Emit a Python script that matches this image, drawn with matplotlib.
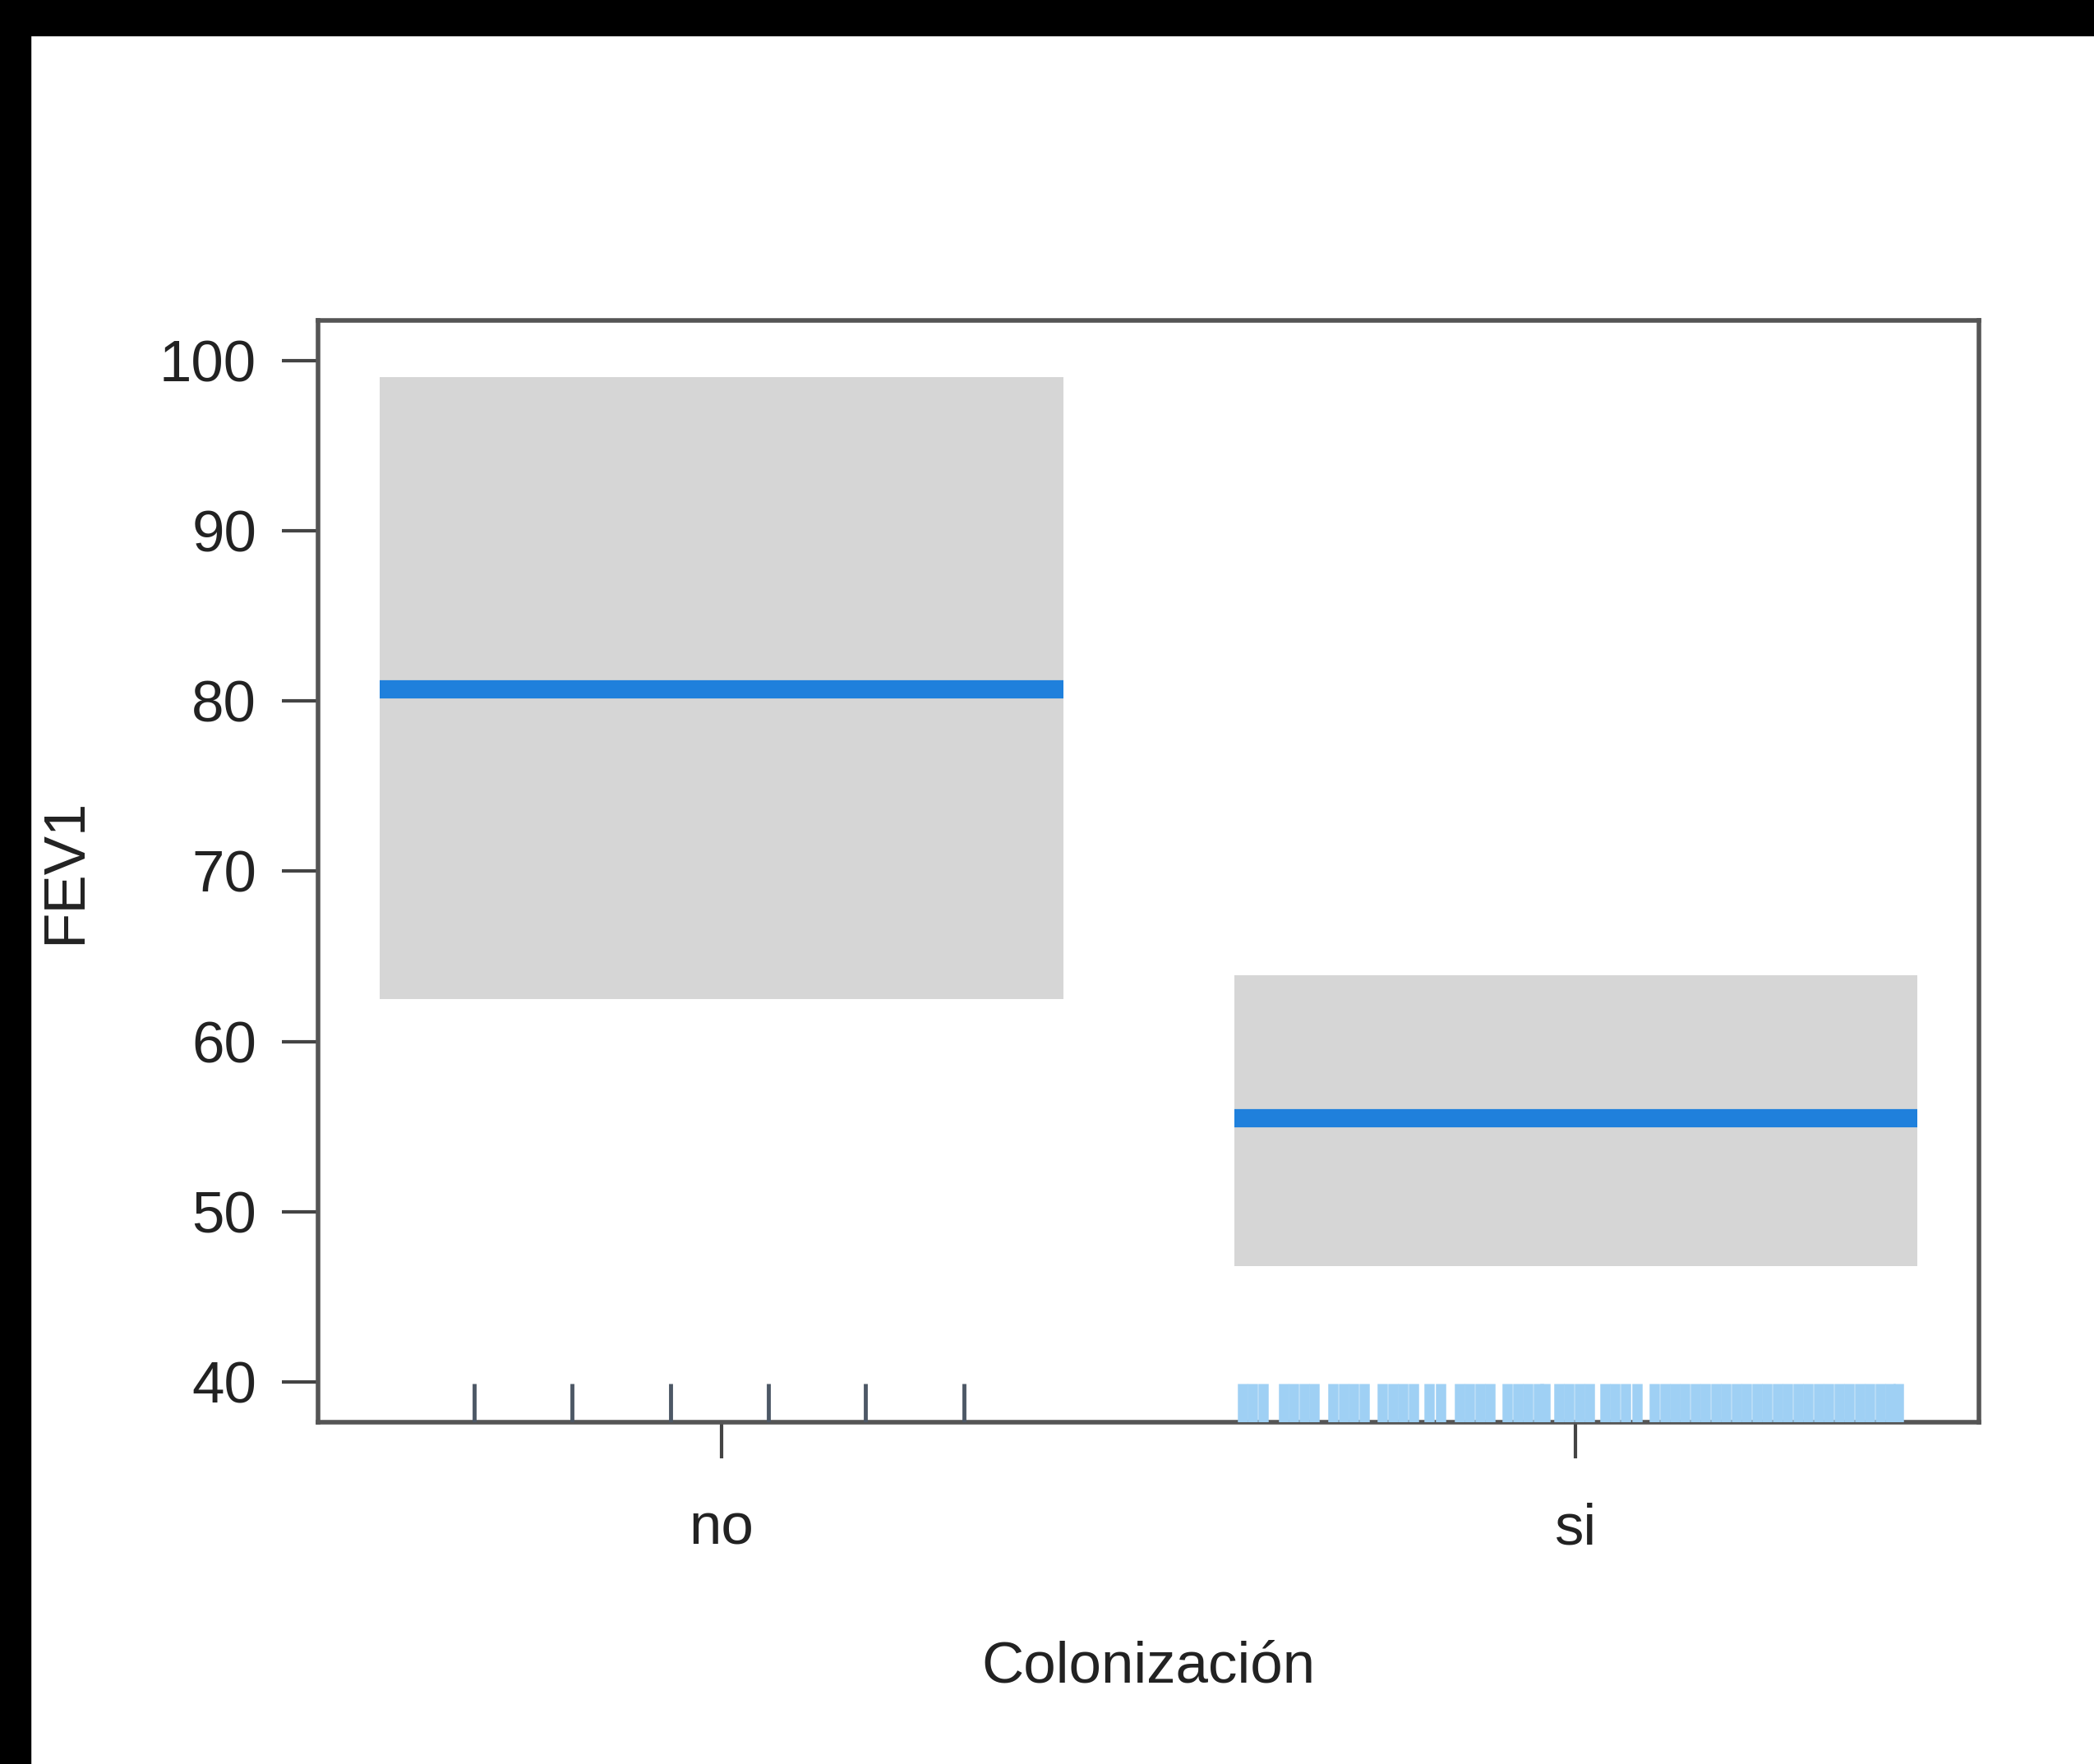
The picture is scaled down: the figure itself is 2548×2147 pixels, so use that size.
import numpy as np
import matplotlib.pyplot as plt
from matplotlib.patches import Rectangle

# effect estimates for FEV1 by colonisation group
categories = ["no", "si"]
fit = [80.7, 55.5]
lower = [62.5, 46.8]
upper = [99.0, 63.9]

# rug of observations (offset from category position, jittered)
rug_no = [-0.289, -0.175, -0.059, 0.055, 0.169, 0.284]
rug_si = [-0.390, -0.378, -0.366,
          -0.342, -0.330, -0.318, -0.306,
          -0.284, -0.272, -0.260, -0.248,
          -0.226, -0.214, -0.202, -0.190,
          -0.172, -0.158,
          -0.136, -0.124, -0.112, -0.100,
          -0.080, -0.068, -0.056, -0.044, -0.036,
          -0.020, -0.008, 0.004, 0.016,
          0.034, 0.046, 0.058, 0.072,
          0.092, 0.104, 0.116, 0.128, 0.140, 0.152, 0.164, 0.176, 0.188,
          0.200, 0.212, 0.224, 0.236, 0.248, 0.260, 0.272, 0.284, 0.296,
          0.308, 0.320, 0.332, 0.344, 0.356, 0.368, 0.378]

yticks = [40, 50, 60, 70, 80, 90, 100]

plt.rcParams["font.family"] = ["Liberation Sans", "DejaVu Sans"]

fig = plt.figure(figsize=(25.48, 21.47), dpi=100)
ax = fig.add_axes([0.1519, 0.1938, 0.7932, 0.6246])

half = 0.4
band_col = "#d6d6d6"
line_col = "#1f80dc"

for i, cat in enumerate(categories):
    ax.fill_between([i - half, i + half], lower[i], upper[i],
                    color=band_col, linewidth=0, zorder=1)
    ax.plot([i - half, i + half], [fit[i], fit[i]],
            color=line_col, lw=16, solid_capstyle="butt", zorder=2)

trans = ax.get_xaxis_transform()
ax.vlines(np.array(rug_no), 0, 0.035, transform=trans,
          color="#4d5866", lw=3.5, zorder=3)
ax.vlines(1 + np.array(rug_si), 0, 0.035, transform=trans,
          color="#9fd0f4", lw=9, zorder=3)

ax.set_xlim(-0.472, 1.472)
ax.set_ylim(37.65, 102.35)
ax.set_xticks(range(len(categories)))
ax.set_xticklabels(categories)
ax.set_yticks(yticks)

for s in ax.spines.values():
    s.set_color("#555555")
    s.set_linewidth(4)

ax.tick_params(axis="both", length=32, width=3, color="#444444",
               labelsize=51, labelcolor="#222222")
ax.tick_params(axis="x", pad=38)
ax.tick_params(axis="y", pad=22)

ax.set_xlabel("Colonización", fontsize=51, color="#222222", labelpad=74)
ax.set_ylabel("FEV1", fontsize=51, color="#222222", labelpad=58)

# black border strips along left and top edges
fig.patches.append(Rectangle((0, 0), 37 / 2548, 1, transform=fig.transFigure,
                             color="black", zorder=10))
fig.patches.append(Rectangle((0, 1 - 43 / 2147), 1, 43 / 2147,
                             transform=fig.transFigure, color="black", zorder=10))

fig.savefig("out.png", dpi=100)
